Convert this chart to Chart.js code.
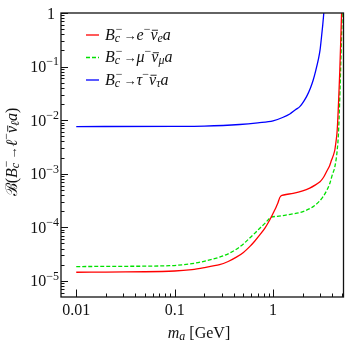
<!DOCTYPE html>
<html>
<head>
<meta charset="utf-8">
<script src="https://cdn.jsdelivr.net/npm/chart.js@4"></script>
<style>
  html, body { margin: 0; padding: 0; background: #fff; }
  #c { display: block; }
</style>
</head>
<body>
<canvas id="c" width="346" height="346"></canvas>
<script>
// B_c -> l nu a branching ratios vs axion mass (log-log)

// axis ranges and tick labels
const xMin = 0.007, xMax = 5.2;
const yMin = 5e-6, yMax = 1;
const xMajor = [0.01, 0.1, 1];
const xTickLabels = ['0.01', '0.1', '1'];
const yMajor = [1e-5, 1e-4, 1e-3, 1e-2, 1e-1, 1];
const yTickExp = ['−5', '−4', '−3', '−2', '−1', ''];

// electron channel [m_a, BR]
const eMass = [0.01, 0.02, 0.05, 0.1, 0.15, 0.2, 0.286, 0.35, 0.424, 0.5, 0.579, 0.65, 0.733, 0.83, 0.925, 1.04, 1.12, 1.2,
  1.6, 2.0, 2.36, 2.7, 3.0, 3.25, 3.5, 3.75, 3.93, 4.1, 4.25, 4.49, 4.77, 4.97];
const eBR = [1.45e-5, 1.46e-5, 1.48e-5, 1.53e-5, 1.62e-5, 1.76e-5, 2.0e-5, 2.3e-5, 2.77e-5, 3.4e-5, 4.36e-5, 5.5e-5, 7.2e-5, 9.8e-5, 1.37e-4, 2.1e-4, 2.85e-4, 3.85e-4,
  4.3e-4, 4.8e-4, 5.4e-4, 6.2e-4, 7.1e-4, 8.5e-4, 1.1e-3, 1.4e-3, 1.8e-3, 2.2e-3, 2.8e-3, 6.6e-3, 0.086, 1];

// muon channel
const muMass = [0.01, 0.03, 0.088, 0.15, 0.194, 0.286, 0.35, 0.424, 0.5, 0.579, 0.65, 0.733, 0.82, 0.89, 0.96, 1.1, 1.26, 1.5,
  1.87, 2.2, 2.56, 2.9, 3.23, 3.5, 3.78, 4.0, 4.25, 4.49, 4.64, 5.05];
const muBR = [1.85e-5, 1.87e-5, 1.92e-5, 2.1e-5, 2.29e-5, 2.77e-5, 3.2e-5, 3.9e-5, 4.9e-5, 6.3e-5, 7.7e-5, 9.6e-5, 1.17e-4, 1.37e-4, 1.55e-4, 1.6e-4, 1.65e-4, 1.75e-4,
  1.88e-4, 2.1e-4, 2.43e-4, 2.95e-4, 3.74e-4, 4.8e-4, 6.65e-4, 9.5e-4, 1.36e-3, 2.78e-3, 6.6e-3, 1];

// tau channel
const tauMass = [0.01, 0.1, 0.2, 0.458, 0.7, 1, 1.25, 1.48, 1.7, 1.87, 2.05, 2.19, 2.4, 2.56, 2.72, 2.88, 3.0, 3.11, 3.2, 3.28];
const tauBR = [7.6e-3, 7.65e-3, 7.75e-3, 8.3e-3, 8.9e-3, 9.66e-3, 0.0112, 0.01305, 0.0158, 0.01786, 0.0225, 0.0275, 0.04, 0.0562, 0.085, 0.133, 0.2, 0.361, 0.6, 1];

const FONT = '"Liberation Serif", "DejaVu Serif", serif';
function fnt(it, size) { return (it ? 'italic ' : '') + size + 'px ' + FONT; }

// draw a run of text pieces with sub/superscripts; returns width
function rich(ctx, parts, size, x, y, draw) {
  let cx = x;
  const small = Math.round(size * 0.72);
  for (const p of parts) {
    if (p.k === 'ss') {
      ctx.font = fnt(false, small);
      const w1 = ctx.measureText(p.t[0]).width;
      if (draw) ctx.fillText(p.t[0], cx + 1, y - size * 0.42);
      ctx.font = fnt(true, small);
      const w2 = ctx.measureText(p.t[1]).width;
      if (draw) ctx.fillText(p.t[1], cx, y + size * 0.15);
      cx += Math.max(w1 + 1, w2) + 1;
    } else {
      const sz = p.k ? small : (p.s || size);
      const dy = p.k === 'sup' ? -size * 0.42 : p.k === 'sub' ? size * 0.15 : 0;
      ctx.font = fnt(p.it, sz);
      const w = ctx.measureText(p.t).width;
      if (draw) {
        ctx.fillText(p.t, cx, y + dy);
        if (p.bar) {
          ctx.save();
          ctx.lineWidth = 0.9;
          ctx.beginPath();
          ctx.moveTo(cx + 1.5, y - size * 0.58);
          ctx.lineTo(cx + w + 0.5, y - size * 0.58);
          ctx.stroke();
          ctx.restore();
        }
      }
      cx += w + (p.g || 0);
    }
  }
  return cx - x;
}

function chanLabel(l) {
  return [
    { t: 'B', it: true }, { k: 'ss', t: ['−', 'c'] },
    { t: '→', s: 13 },
    { t: l, it: true }, { k: 'sup', t: '−' },
    { t: 'ν', it: true, bar: true }, { k: 'sub', t: l, it: true },
    { t: 'a', it: true }
  ];
}
const legendLabels = [chanLabel('e'), chanLabel('μ'), chanLabel('τ')];

const pts = (xs, ys) => xs.map((x, i) => ({ x: x, y: ys[i] }));

const decor = {
  id: 'decor',
  afterDraw(chart) {
    const ctx = chart.ctx;
    const a = chart.chartArea;
    const xs = chart.scales.x, ys = chart.scales.y;
    ctx.save();
    ctx.strokeStyle = '#111';
    ctx.fillStyle = '#111';
    ctx.lineWidth = 1.3;
    ctx.strokeRect(a.left, a.top, a.right - a.left, a.bottom - a.top);

    // inward ticks
    ctx.lineWidth = 1;
    ctx.beginPath();
    for (let e = -3; e <= 0; e++) {
      for (let m = 1; m <= 9; m++) {
        const v = m * Math.pow(10, e);
        if (v < 0.01 || v > xMax) continue;
        const px = Math.round(xs.getPixelForValue(v)) + 0.5;
        const len = m === 1 ? 7.5 : 3.5;
        ctx.moveTo(px, a.bottom);
        ctx.lineTo(px, a.bottom - len);
      }
    }
    for (let e = -6; e <= 0; e++) {
      for (let m = 1; m <= 9; m++) {
        const v = m * Math.pow(10, e);
        if (v < yMin || v > yMax) continue;
        const py = Math.round(ys.getPixelForValue(v)) + 0.5;
        const len = m === 1 ? 7 : 3.5;
        ctx.moveTo(a.left, py);
        ctx.lineTo(a.left + len, py);
      }
    }
    ctx.stroke();

    // x tick labels
    ctx.textBaseline = 'alphabetic';
    ctx.font = fnt(false, 16);
    ctx.textAlign = 'center';
    xMajor.forEach((v, i) => ctx.fillText(xTickLabels[i], xs.getPixelForValue(v), 315));

    // y tick labels
    ctx.textAlign = 'left';
    yMajor.forEach((v, i) => {
      const py = ys.getPixelForValue(v);
      const parts = yTickExp[i] ? [{ t: '10' }, { k: 'sup', t: yTickExp[i] }] : [{ t: '1' }];
      const right = yTickExp[i] ? 59 : 55;
      const w = rich(ctx, parts, 16, 0, 0, false);
      rich(ctx, parts, 16, right - w, py + 5.5, true);
    });

    // x title
    const xt = [{ t: 'm', it: true }, { k: 'sub', t: 'a', it: true }, { t: ' [GeV]' }];
    const wx = rich(ctx, xt, 16, 0, 0, false);
    rich(ctx, xt, 16, 199 - wx / 2, 338, true);

    // y title
    const yt = [
      { t: 'ℬ' }, { t: '(' }, { t: 'B', it: true }, { k: 'ss', t: ['−', 'c'] },
      { t: '→', s: 13 }, { t: 'ℓ', it: true }, { k: 'sup', t: '−' },
      { t: 'ν', it: true, bar: true }, { k: 'sub', t: 'ℓ', it: true }, { t: 'a', it: true }, { t: ')' }
    ];
    const wy = rich(ctx, yt, 16, 0, 0, false);
    ctx.save();
    ctx.translate(17, 152);
    ctx.rotate(-Math.PI / 2);
    rich(ctx, yt, 16, -wy / 2, 0, true);
    ctx.restore();

    // legend
    chart.data.datasets.forEach((ds, i) => {
      const ly = 35 + i * 22.5;
      ctx.save();
      ctx.strokeStyle = ds.borderColor;
      ctx.lineWidth = ds.borderWidth;
      ctx.setLineDash(ds.borderDash || []);
      ctx.beginPath();
      ctx.moveTo(86, ly);
      ctx.lineTo(99, ly);
      ctx.stroke();
      ctx.restore();
      rich(ctx, legendLabels[i], 16, 105, ly + 4.5, true);
    });
    ctx.restore();
  }
};

new Chart(document.getElementById('c'), {
  type: 'line',
  data: {
    datasets: [
      { data: pts(eMass, eBR), borderColor: '#ff0000', borderWidth: 1.3, pointRadius: 0, tension: 0.25 },
      { data: pts(muMass, muBR), borderColor: '#00e000', borderWidth: 1.3, borderDash: [4, 2], pointRadius: 0, cubicInterpolationMode: 'monotone' },
      { data: pts(tauMass, tauBR), borderColor: '#0000ff', borderWidth: 1.3, pointRadius: 0, cubicInterpolationMode: 'monotone' }
    ]
  },
  options: {
    responsive: false,
    animation: false,
    devicePixelRatio: 1,
    layout: { padding: { top: 13, right: 2.5, left: 0, bottom: 0 } },
    plugins: { legend: { display: false }, tooltip: { enabled: false } },
    scales: {
      x: {
        type: 'logarithmic', min: xMin, max: xMax,
        grid: { display: false }, border: { display: false },
        ticks: { display: false },
        afterFit: s => { s.height = 49; }
      },
      y: {
        type: 'logarithmic', min: yMin, max: yMax,
        grid: { display: false }, border: { display: false },
        ticks: { display: false },
        afterFit: s => { s.width = 61; }
      }
    }
  },
  plugins: [decor]
});
</script>
</body>
</html>
